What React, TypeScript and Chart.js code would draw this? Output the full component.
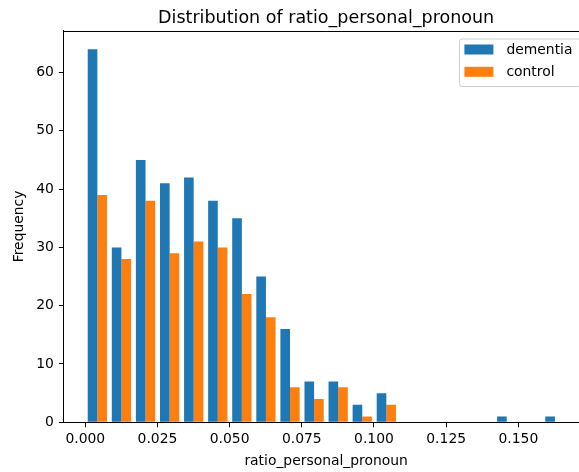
import React, { useEffect, useRef } from "react";
import { Chart, registerables } from "chart.js";

Chart.register(...registerables);

// Histogram bin edges (20 equal-width bins)
const binEdges = [
  0.0, 0.00834, 0.01668, 0.02503, 0.03337, 0.04171, 0.05005, 0.05839, 0.06674, 0.07508,
  0.08342, 0.09176, 0.1001, 0.10845, 0.11679, 0.12513, 0.13347, 0.14181, 0.15016, 0.1585,
  0.16684,
];

// Counts per bin for each group
const dementiaCounts = [64, 30, 45, 41, 42, 38, 35, 25, 16, 7, 7, 3, 5, 0, 0, 0, 0, 1, 0, 1];
const controlCounts = [39, 28, 38, 29, 31, 30, 22, 18, 6, 4, 6, 1, 3, 0, 0, 0, 0, 0, 0, 0];

const seriesLabels = ["dementia", "control"];
const seriesColors = ["#1f77b4", "#ff7f0e"];

const xTicks = [0.0, 0.025, 0.05, 0.075, 0.1, 0.125, 0.15];
const yTicks = [0, 10, 20, 30, 40, 50, 60];

const titleText = "Distribution of ratio_personal_pronoun";
const xLabel = "ratio_personal_pronoun";
const yLabel = "Frequency";

const FONT = '"DejaVu Sans", "Liberation Sans", sans-serif';
const TICK_SIZE = 13.9;

const binCenters = binEdges.slice(0, -1).map((e, i) => (e + binEdges[i + 1]) / 2);

// Title, top/right spines and an in-axes legend box
const decorPlugin = {
  id: "decor",
  afterDraw(chart: any) {
    const { ctx, chartArea: a } = chart;
    ctx.save();
    ctx.strokeStyle = "#000";
    ctx.lineWidth = 1;
    ctx.beginPath();
    ctx.moveTo(a.left, Math.round(a.top) + 0.5);
    ctx.lineTo(a.right, Math.round(a.top) + 0.5);
    ctx.moveTo(Math.round(a.right) + 0.5, a.top);
    ctx.lineTo(Math.round(a.right) + 0.5, a.bottom);
    ctx.stroke();

    // title, centred over the axes
    ctx.fillStyle = "#000";
    ctx.font = `17.5px ${FONT}`;
    ctx.textAlign = "center";
    ctx.textBaseline = "alphabetic";
    ctx.fillText(titleText, (a.left + a.right) / 2, 22.5);

    // legend box in the upper right of the axes
    const boxRight = a.right - 7;
    const boxLeft = boxRight - 122;
    const boxTop = a.top + 8.5;
    const boxH = 47.5;
    const r = 2.8;
    ctx.beginPath();
    ctx.moveTo(boxLeft + r, boxTop);
    ctx.lineTo(boxRight - r, boxTop);
    ctx.arcTo(boxRight, boxTop, boxRight, boxTop + r, r);
    ctx.lineTo(boxRight, boxTop + boxH - r);
    ctx.arcTo(boxRight, boxTop + boxH, boxRight - r, boxTop + boxH, r);
    ctx.lineTo(boxLeft + r, boxTop + boxH);
    ctx.arcTo(boxLeft, boxTop + boxH, boxLeft, boxTop + boxH - r, r);
    ctx.lineTo(boxLeft, boxTop + r);
    ctx.arcTo(boxLeft, boxTop, boxLeft + r, boxTop, r);
    ctx.closePath();
    ctx.fillStyle = "rgba(255,255,255,0.8)";
    ctx.fill();
    ctx.strokeStyle = "#cccccc";
    ctx.stroke();

    ctx.font = `${TICK_SIZE}px ${FONT}`;
    ctx.textAlign = "left";
    ctx.textBaseline = "middle";
    chart.data.datasets.forEach((ds: any, i: number) => {
      const cy = boxTop + 10.5 + i * 22.3;
      ctx.fillStyle = ds.backgroundColor;
      ctx.fillRect(boxLeft + 5, cy - 5, 29, 10);
      ctx.fillStyle = "#000";
      ctx.fillText(ds.label, boxLeft + 47, cy + 0.5);
    });
    ctx.restore();
  },
};

export default function App() {
  const canvasRef = useRef<HTMLCanvasElement | null>(null);

  useEffect(() => {
    const canvas = canvasRef.current;
    if (!canvas) return;
    const counts = [dementiaCounts, controlCounts];
    const chart = new Chart(canvas, {
      type: "bar",
      data: {
        datasets: counts.map((c, k) => ({
          label: seriesLabels[k],
          data: binCenters.map((x, i) => ({ x, y: c[i] })),
          backgroundColor: seriesColors[k],
          borderWidth: 0,
          categoryPercentage: 0.8,
          barPercentage: 1.0,
        })),
      },
      options: {
        animation: false,
        responsive: false,
        layout: { padding: { left: 0, top: 30.5, right: 11.6, bottom: 0 } },
        plugins: {
          legend: { display: false },
          title: { display: false },
          tooltip: { enabled: false },
        },
        scales: {
          x: {
            type: "linear",
            offset: false,
            min: -0.00742,
            max: 0.17427,
            afterBuildTicks: (scale: any) => {
              scale.ticks = xTicks.map((v) => ({ value: v }));
            },
            afterFit: (scale: any) => {
              scale.height = 49.7;
            },
            grid: {
              offset: false,
              display: true,
              drawOnChartArea: false,
              drawTicks: true,
              tickLength: 5,
              color: "#000",
              lineWidth: 1,
            },
            border: { display: true, color: "#000", width: 1 },
            ticks: {
              padding: 4,
              color: "#000",
              maxRotation: 0,
              font: { family: FONT, size: TICK_SIZE },
              callback: (v: any) => Number(v).toFixed(3),
            },
            title: {
              display: true,
              text: xLabel,
              color: "#000",
              font: { family: FONT, size: TICK_SIZE },
              padding: { top: 0, bottom: 2 },
            },
          },
          y: {
            type: "linear",
            min: 0,
            max: 67.2,
            afterBuildTicks: (scale: any) => {
              scale.ticks = yTicks.map((v) => ({ value: v }));
            },
            afterFit: (scale: any) => {
              scale.width = 63.9;
            },
            grid: {
              display: true,
              drawOnChartArea: false,
              drawTicks: true,
              tickLength: 5,
              color: "#000",
              lineWidth: 1,
            },
            border: { display: true, color: "#000", width: 1 },
            ticks: {
              padding: 5,
              color: "#000",
              font: { family: FONT, size: TICK_SIZE },
              callback: (v: any) => String(v),
            },
            title: {
              display: true,
              text: yLabel,
              color: "#000",
              font: { family: FONT, size: TICK_SIZE },
              padding: { top: 11.3, bottom: 0 },
            },
          },
        },
      },
      plugins: [decorPlugin],
    } as any);
    return () => chart.destroy();
  }, []);

  return (
    <div
      style={{
        position: "fixed",
        left: 0,
        top: 0,
        width: 579,
        height: 472,
        overflow: "hidden",
        background: "#fff",
      }}
    >
      <canvas ref={canvasRef} width={600} height={472} style={{ display: "block" }} />
    </div>
  );
}
